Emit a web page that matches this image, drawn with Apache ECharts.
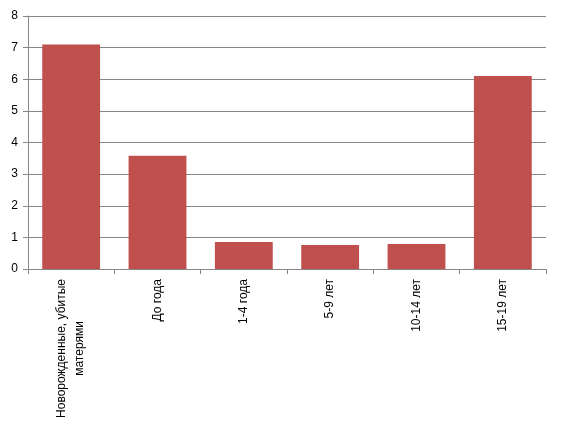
<!DOCTYPE html>
<html><head><meta charset="utf-8">
<script src="https://cdn.jsdelivr.net/npm/echarts@6/dist/echarts.min.js"></script>
<style>html,body{margin:0;padding:0;background:#fff}#c{width:561px;height:431px}</style>
</head><body><div id="c"></div>
<script>
const categories = ['Новорожденные, убитые\nматерями', 'До года', '1-4 года', '5-9 лет', '10-14 лет', '15-19 лет'];
const values = [7.1, 3.58, 0.85, 0.76, 0.79, 6.1];
const yTicks = [0, 1, 2, 3, 4, 5, 6, 7, 8];

const chart = echarts.init(document.getElementById('c'), null, {renderer: 'canvas'});
chart.setOption({
  animation: false,
  backgroundColor: '#fff',
  grid: {left: 28, right: 15, top: 16, bottom: 162, containLabel: false},
  xAxis: {
    type: 'category',
    data: categories,
    boundaryGap: true,
    axisLine: {lineStyle: {color: '#868686', width: 1}},
    axisTick: {show: true, length: 5, lineStyle: {color: '#868686'}},
    axisLabel: {
      rotate: 90,
      margin: 10,
      interval: 0,
      color: '#000',
      fontFamily: 'Liberation Sans, Arial, sans-serif',
      fontSize: 12,
      lineHeight: 18,
      formatter: function (v) {
        return v.split('\n').map(s => '{a|' + s + '}').join('\n');
      },
      rich: {a: {align: 'center', fontFamily: 'Liberation Sans, Arial, sans-serif', fontSize: 12, color: '#000', lineHeight: 18}}
    }
  },
  yAxis: {
    type: 'value',
    min: yTicks[0],
    max: yTicks[yTicks.length - 1],
    interval: 1,
    axisLine: {show: true, lineStyle: {color: '#868686'}},
    axisTick: {show: true, length: 5, inside: false, lineStyle: {color: '#868686'}},
    splitLine: {lineStyle: {color: '#868686', width: 1}},
    axisLabel: {color: '#000', fontFamily: 'Liberation Sans, Arial, sans-serif', fontSize: 12, margin: 10}
  },
  series: [{
    type: 'bar',
    data: values,
    barWidth: '67%',
    itemStyle: {color: '#C0504D'}
  }]
});
</script></body></html>
